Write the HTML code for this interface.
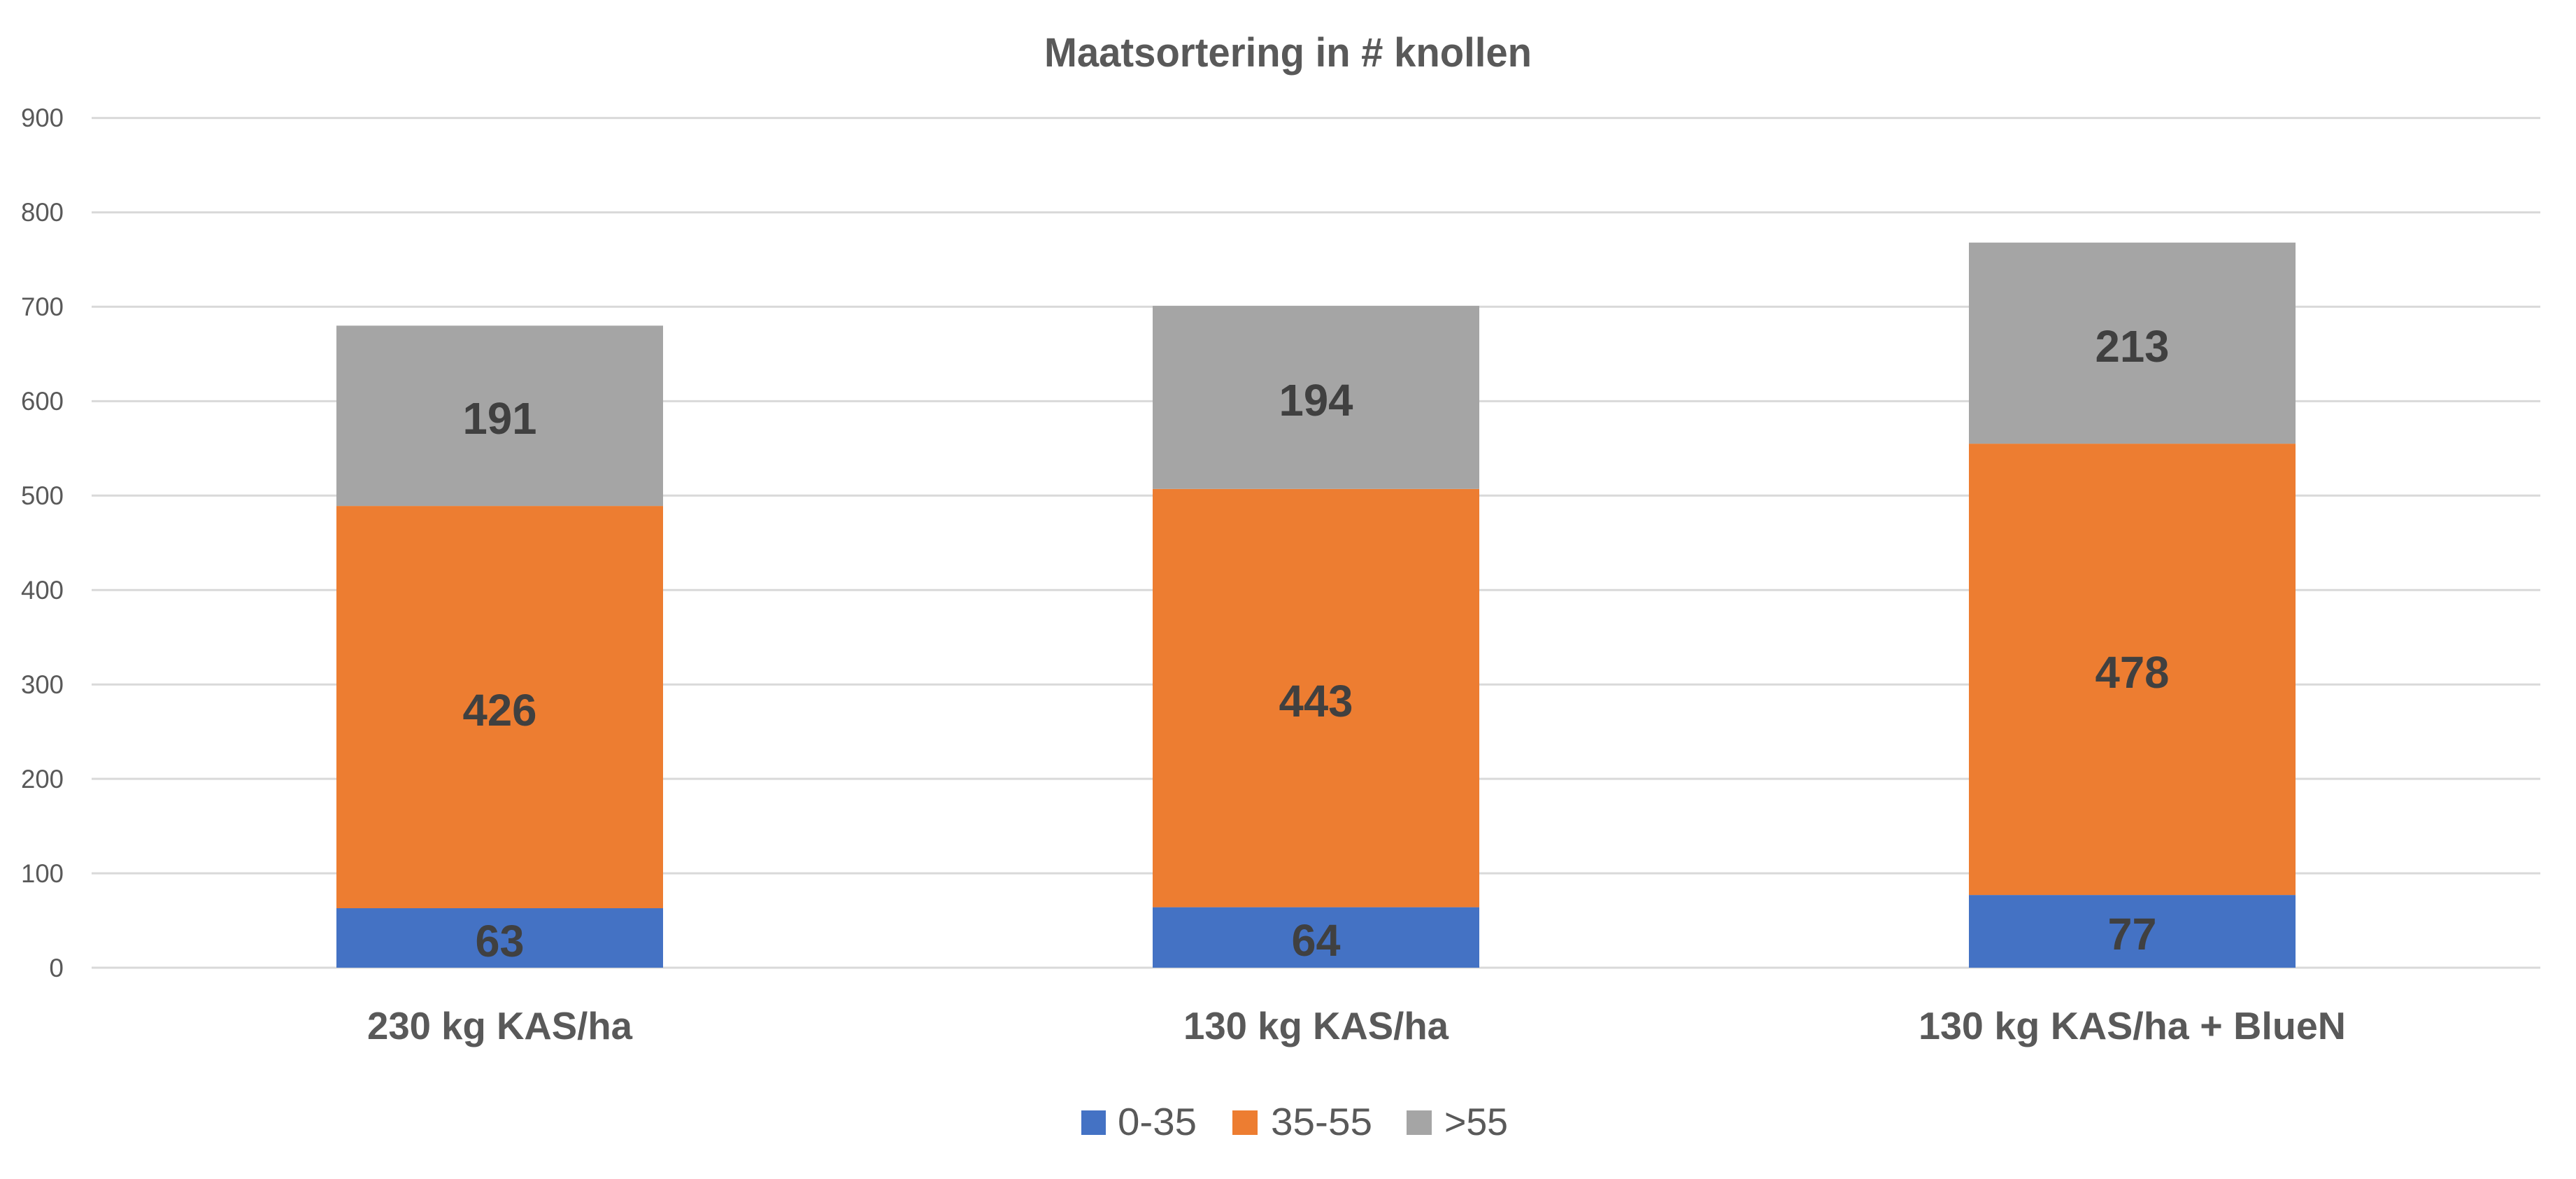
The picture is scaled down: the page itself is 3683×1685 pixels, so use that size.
<!DOCTYPE html>
<html><head><meta charset="utf-8"><style>html,body{margin:0;padding:0;background:#fff}svg{display:block}</style></head>
<body>
<svg width="3683" height="1685" viewBox="0 0 3683 1685" xmlns="http://www.w3.org/2000/svg" font-family="'Liberation Sans', sans-serif">
<rect width="3683" height="1685" fill="#fff"/>
<g stroke="#d9d9d9" stroke-width="3">
<line x1="131" x2="3632" y1="1383" y2="1383"/>
<line x1="131" x2="3632" y1="1248.1" y2="1248.1"/>
<line x1="131" x2="3632" y1="1113.1" y2="1113.1"/>
<line x1="131" x2="3632" y1="978.2" y2="978.2"/>
<line x1="131" x2="3632" y1="843.2" y2="843.2"/>
<line x1="131" x2="3632" y1="708.3" y2="708.3"/>
<line x1="131" x2="3632" y1="573.4" y2="573.4"/>
<line x1="131" x2="3632" y1="438.4" y2="438.4"/>
<line x1="131" x2="3632" y1="303.5" y2="303.5"/>
<line x1="131" x2="3632" y1="168.6" y2="168.6"/>
</g>
<g fill="#595959" font-size="37" text-anchor="end">
<text x="91" y="1396">0</text>
<text x="91" y="1261" textLength="61" lengthAdjust="spacingAndGlyphs">100</text>
<text x="91" y="1126" textLength="61" lengthAdjust="spacingAndGlyphs">200</text>
<text x="91" y="991" textLength="61" lengthAdjust="spacingAndGlyphs">300</text>
<text x="91" y="856" textLength="61" lengthAdjust="spacingAndGlyphs">400</text>
<text x="91" y="721" textLength="61" lengthAdjust="spacingAndGlyphs">500</text>
<text x="91" y="586" textLength="61" lengthAdjust="spacingAndGlyphs">600</text>
<text x="91" y="451" textLength="61" lengthAdjust="spacingAndGlyphs">700</text>
<text x="91" y="316" textLength="61" lengthAdjust="spacingAndGlyphs">800</text>
<text x="91" y="181" textLength="61" lengthAdjust="spacingAndGlyphs">900</text>
</g>
<!-- bars -->
<rect x="481" y="1298" width="467" height="85" fill="#4472c4"/>
<rect x="481" y="723.1" width="467" height="574.9" fill="#ed7d31"/>
<rect x="481" y="465.4" width="467" height="257.7" fill="#a5a5a5"/>
<rect x="1648" y="1296.6" width="467" height="86.4" fill="#4472c4"/>
<rect x="1648" y="698.8" width="467" height="597.8" fill="#ed7d31"/>
<rect x="1648" y="437.1" width="467" height="261.7" fill="#a5a5a5"/>
<rect x="2815" y="1279.1" width="467" height="103.9" fill="#4472c4"/>
<rect x="2815" y="634.1" width="467" height="645" fill="#ed7d31"/>
<rect x="2815" y="346.7" width="467" height="287.4" fill="#a5a5a5"/>
<g fill="#404040" font-size="64" font-weight="bold" text-anchor="middle">
<text x="714.5" y="1367" textLength="70" lengthAdjust="spacingAndGlyphs">63</text>
<text x="714.5" y="1037" textLength="106" lengthAdjust="spacingAndGlyphs">426</text>
<text x="714.5" y="620" textLength="106" lengthAdjust="spacingAndGlyphs">191</text>
<text x="1881.5" y="1366" textLength="70" lengthAdjust="spacingAndGlyphs">64</text>
<text x="1881.5" y="1024" textLength="106" lengthAdjust="spacingAndGlyphs">443</text>
<text x="1881.5" y="594" textLength="106" lengthAdjust="spacingAndGlyphs">194</text>
<text x="3048.5" y="1357" textLength="70" lengthAdjust="spacingAndGlyphs">77</text>
<text x="3048.5" y="983" textLength="106" lengthAdjust="spacingAndGlyphs">478</text>
<text x="3048.5" y="517" textLength="106" lengthAdjust="spacingAndGlyphs">213</text>
</g>
<g fill="#595959" font-size="55" font-weight="bold" text-anchor="middle">
<text x="714.5" y="1485" textLength="379" lengthAdjust="spacingAndGlyphs">230 kg KAS/ha</text>
<text x="1881.5" y="1485" textLength="379" lengthAdjust="spacingAndGlyphs">130 kg KAS/ha</text>
<text x="3048.5" y="1485" textLength="611" lengthAdjust="spacingAndGlyphs">130 kg KAS/ha + BlueN</text>
</g>
<text x="1841.5" y="95" fill="#595959" font-size="58" font-weight="bold" text-anchor="middle" textLength="697" lengthAdjust="spacingAndGlyphs">Maatsortering in # knollen</text>
<rect x="1546" y="1587" width="35" height="35" fill="#4472c4"/>
<rect x="1762" y="1587" width="36" height="35" fill="#ed7d31"/>
<rect x="2011" y="1587" width="36" height="35" fill="#a5a5a5"/>
<g fill="#595959" font-size="55">
<text x="1598" y="1622" textLength="113" lengthAdjust="spacingAndGlyphs">0-35</text>
<text x="1817" y="1622" textLength="145" lengthAdjust="spacingAndGlyphs">35-55</text>
<text x="2065" y="1622" textLength="91" lengthAdjust="spacingAndGlyphs">&gt;55</text>
</g>
</svg>
</body></html>
